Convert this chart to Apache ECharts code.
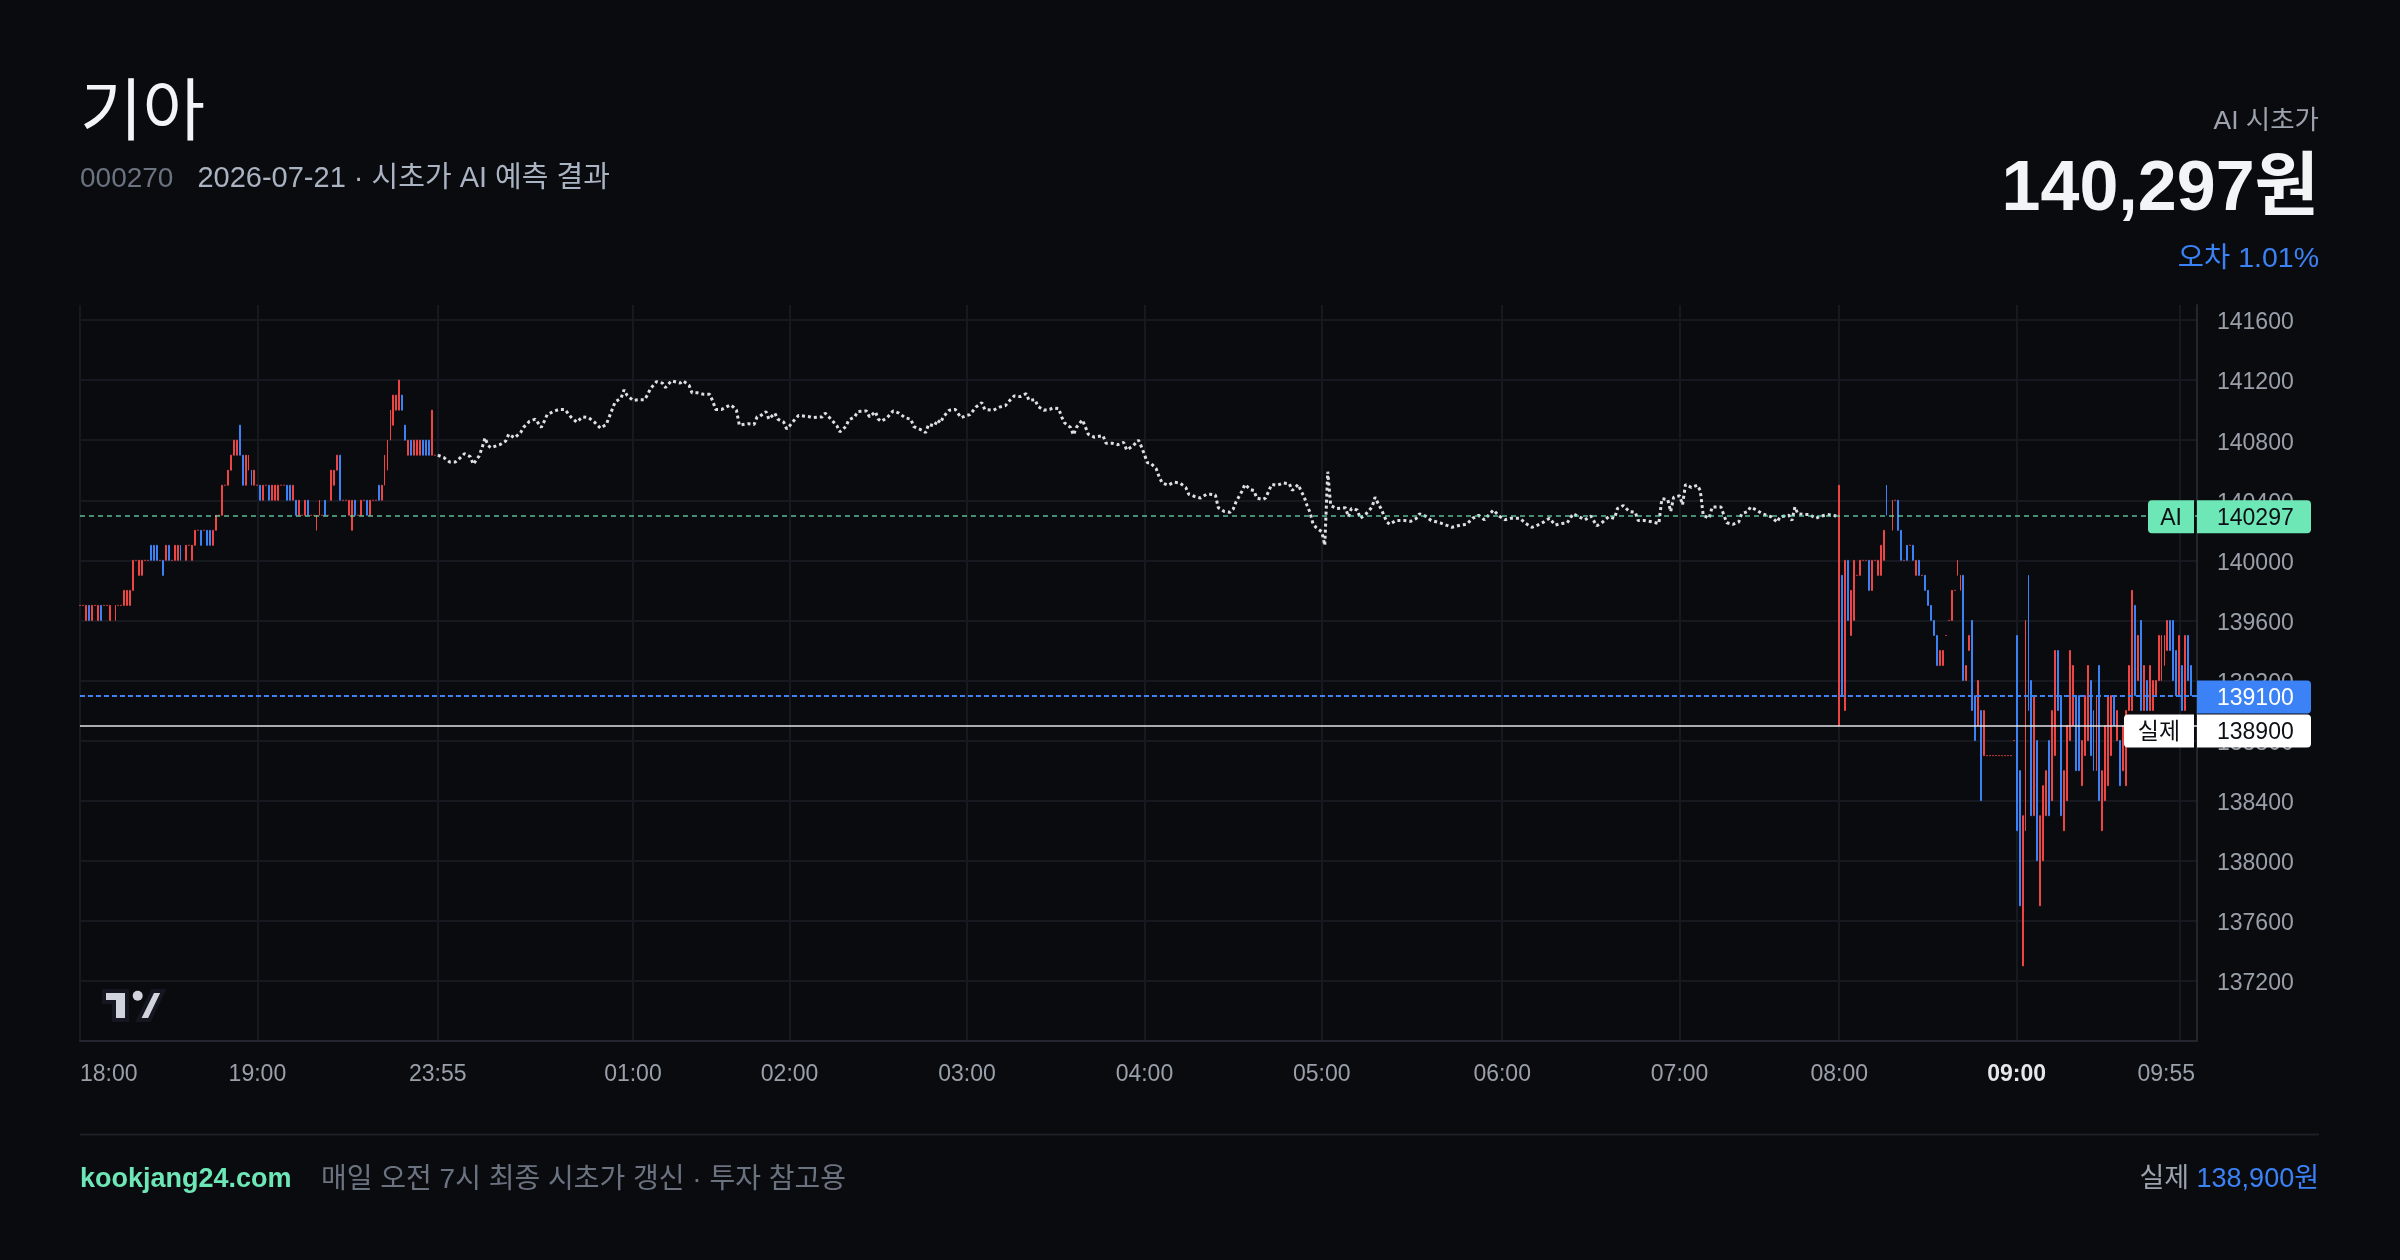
<!DOCTYPE html>
<html>
<head>
<meta charset="utf-8">
<title>기아 시초가 AI 예측 결과</title>
<script src="https://cdn.jsdelivr.net/npm/echarts@6/dist/echarts.min.js"></script>
<style>
html,body{margin:0;padding:0;background:#0a0b0f;}
#chart{width:2400px;height:1260px;}
</style>
</head>
<body>
<div id="chart"></div>
<script>
var FONT = '"Liberation Sans", "Noto Sans CJK KR", sans-serif';
var UP = '#ef4444', DOWN = '#3b82f6', GREEN = '#6ee7b7';

var stockName = '기아', stockCode = '000270', tradeDate = '2026-07-21';
var aiOpen = 140297;      // AI 시초가
var actualOpen = 138900;  // 실제 시초가
var lastClose = 139100;   // 마지막 체결가

// one slot = one bar on the time scale (index based, like the original chart)
var slotCount = 717;
var tickSlots  = [0, 60, 121, 187, 240, 300, 360, 420, 481, 541, 595, 655, 710];
var tickLabels = ['18:00','19:00','23:55','01:00','02:00','03:00','04:00','05:00','06:00','07:00','08:00','09:00','09:55'];

// 18:00 ~ 20:00 bars (u = up/red, d = down/blue, f = flat)
var eveningStart = 0;
var eveningSide = 'ffudufudff' + 'ufuffuuuuf' + 'uuffdddfdu' + 'dfuudfufuu' + 'fdfdduufuf' +
                  'uuuudduudu' + 'fdufduuuff' + 'ddudufudff' + 'uufdfuuudf' + 'fuudfufduf' +
                  'fduuuuuuud' + 'duduuudddu' + 'f';
var eveningLow = [
  139700,139700,139600,139600,139600,139700,139600,139600,139700,139700,
  139600,139700,139600,139700,139700,139700,139700,139700,139800,140000,
  139900,139900,140000,140000,140000,140000,140000,140000,139900,140000,
  140000,140000,140000,140000,140000,140100,140000,140100,140000,140100,
  140200,140100,140200,140100,140100,140100,140200,140300,140300,140500,
  140500,140600,140700,140700,140700,140500,140500,140600,140500,140500,
  140500,140400,140400,140500,140400,140400,140400,140400,140500,140500,
  140400,140400,140400,140300,140300,140300,140300,140300,140300,140300,
  140200,140300,140300,140300,140300,140400,140500,140600,140400,140400,
  140400,140300,140200,140300,140300,140300,140400,140300,140300,140400,
  140400,140400,140400,140500,140600,140800,140900,141000,141000,141000,
  140800,140700,140700,140700,140700,140700,140700,140700,140700,140700,
  140700];
var eveningHigh = [
  139700,139700,139700,139700,139700,139700,139700,139700,139700,139700,
  139700,139700,139700,139700,139700,139800,139800,139800,140000,140000,
  140000,140000,140000,140000,140100,140100,140100,140000,140000,140100,
  140100,140000,140100,140100,140100,140100,140100,140100,140100,140200,
  140200,140200,140200,140200,140200,140200,140300,140300,140500,140500,
  140600,140700,140800,140800,140900,140700,140700,140700,140600,140600,
  140500,140500,140500,140500,140500,140500,140500,140500,140500,140500,
  140500,140500,140500,140400,140400,140300,140400,140400,140300,140300,
  140300,140400,140300,140400,140300,140600,140600,140700,140700,140400,
  140400,140400,140400,140400,140300,140400,140400,140400,140400,140400,
  140400,140500,140500,140700,140800,141000,141100,141100,141200,141100,
  140900,140800,140800,140800,140800,140800,140800,140800,140800,141000,
  140700];

// 08:00 ~ 09:59 bars
var morningStart = 595;
var morningSide = 'ududuufuff' + 'dufuuudfuf' + 'ddfdfdudfd' + 'dddduuffuf' + 'uuduuddudu' +
                  'ffffffffff' + 'dduudduduu' + 'uduudduuuu' + 'dduuuddudu' + 'uuududuuuu' +
                  'dududuuuuu' + 'uudddududd';
var morningLow = [
  138900,139100,139000,139600,139500,139600,139900,139900,140000,140000,
  139800,139800,140000,139900,139900,140000,140300,140300,140200,140400,
  140200,140000,140000,140000,140100,140000,139900,139900,139900,139800,
  139700,139600,139500,139300,139300,139300,139500,139600,139600,139800,
  139900,139800,139200,139200,139400,139000,138800,138900,138400,138700,
  138700,138700,138700,138700,138700,138700,138700,138700,138700,138800,
  138200,137700,137300,138200,139000,138300,138300,138000,137700,138000,
  138300,138300,138400,138700,139000,138300,138200,138400,138800,138900,
  138600,138600,138500,138700,138800,138700,138600,138600,138400,138200,
  138400,138500,138700,138900,138800,138500,138600,138500,139000,139000,
  139100,139200,139000,139000,139000,139000,139000,139100,139200,139200,
  139300,139400,139400,139200,139100,139100,139000,139000,139200,139100];
var morningHigh = [
  140500,139900,140000,140000,139800,140000,139900,140000,140000,140000,
  140000,140000,140000,140000,140100,140200,140500,140300,140400,140400,
  140400,140200,140000,140100,140100,140100,140000,140000,139900,139900,
  139800,139700,139600,139500,139400,139400,139500,139600,139800,139800,
  140000,139900,139900,139300,139500,139600,139100,139200,139000,139000,
  138700,138700,138700,138700,138700,138700,138700,138700,138700,138800,
  139500,138600,138300,139600,139900,139200,139100,138800,138300,138500,
  138600,138800,139000,139400,139400,139100,138600,138900,139400,139300,
  139100,139100,138800,139100,139300,139200,139000,139100,139300,138600,
  138900,139100,139100,139100,139000,138800,138900,139000,139300,139800,
  139700,139500,139600,139300,139200,139300,139200,139200,139500,139500,
  139500,139600,139600,139600,139400,139500,139300,139500,139500,139300];

// AI 예측 경로 (23:55 ~ 08:00)
var aiSlot = [
  121,123,125,127,129,130,132,133,135,136,137,138,139,142,144,145,147,149,150,152,
  154,156,157,158,160,162,164,166,168,170,172,174,176,178,179,181,183,184,185,187,
  189,191,192,193,195,197,198,200,203,204,206,207,209,211,213,214,215,217,220,221,
  222,223,226,228,229,230,232,233,235,236,238,239,240,241,243,245,247,248,251,252,
  254,256,257,259,260,262,263,266,267,269,270,271,273,275,277,279,281,282,285,286,
  287,289,290,291,292,294,296,298,300,301,303,305,306,309,311,313,314,316,318,320,
  321,323,324,326,328,329,331,332,333,335,336,337,339,340,341,343,346,347,349,351,
  353,354,356,358,359,360,361,362,364,365,366,368,370,372,374,375,377,379,381,382,
  384,385,387,389,390,391,393,394,396,397,398,400,401,402,403,405,407,409,410,412,
  413,414,415,416,417,418,420,421,422,423,425,428,429,430,432,433,435,437,438,439,
  440,441,442,443,445,446,448,450,452,453,455,457,460,462,464,467,469,471,473,475,
  478,480,482,484,487,489,491,493,495,497,499,501,503,504,505,507,509,511,513,515,
  517,519,520,522,524,526,527,529,532,534,535,537,538,539,541,542,543,545,547,548,
  549,551,552,555,556,557,559,561,562,564,565,567,569,572,574,575,578,579,580,581,
  583,585,587,589,591,594];
var aiPath = [
  140700,140685,140655,140655,140690,140710,140690,140640,140695,140750,140815,140765,140750,140770,140795,140840,140815,140850,140885,140925,
  140940,140885,140925,140970,140990,141005,141005,140955,140920,140955,140950,140920,140880,140905,140955,141055,141080,141135,141100,141065,
  141070,141070,141105,141145,141190,141180,141150,141195,141180,141195,141165,141115,141115,141105,141105,141060,141005,141005,141035,141020,
  141000,140900,140910,140905,140955,140960,140990,140940,140980,140940,140920,140875,140895,140920,140965,140960,140955,140950,140955,140980,
  140940,140895,140855,140890,140935,140955,140990,140995,140955,140990,140940,140925,140950,140995,140980,140950,140940,140890,140865,140850,
  140905,140895,140935,140915,140955,141000,141005,140950,140965,140970,141020,141050,141005,141000,141020,141030,141055,141095,141090,141110,
  141065,141070,141025,141000,141005,141015,141010,140955,140915,140885,140835,140885,140935,140890,140840,140820,140830,140780,140780,140770,
  140785,140735,140760,140800,140755,140705,140650,140650,140610,140555,140515,140500,140520,140515,140485,140440,140425,140415,140440,140440,
  140435,140350,140325,140320,140340,140390,140460,140505,140470,140465,140415,140405,140415,140460,140505,140500,140515,140510,140465,140505,
  140460,140425,140365,140320,140245,140220,140190,140100,140590,140365,140345,140350,140290,140345,140335,140280,140310,140355,140420,140380,
  140345,140300,140255,140240,140265,140265,140265,140260,140280,140310,140295,140265,140250,140235,140220,140235,140240,140280,140300,140270,
  140335,140295,140270,140280,140280,140245,140220,140235,140255,140280,140235,140245,140250,140280,140310,140290,140270,140295,140230,140255,
  140290,140280,140345,140365,140325,140320,140265,140265,140255,140245,140410,140405,140325,140420,140430,140370,140505,140485,140500,140465,
  140300,140280,140355,140355,140300,140250,140240,140255,140310,140325,140355,140335,140310,140290,140255,140290,140300,140265,140355,140310,
  140305,140305,140280,140295,140305,140295];

// ---- build library data ----
var slots = [];
for (var i = 0; i < slotCount; i++) slots.push(String(i));
var tickName = {};
tickSlots.forEach(function (s, k) { tickName[s] = tickLabels[k]; });

function addBars(out, start, side, low, high) {
  for (var k = 0; k < side.length; k++) {
    var l = low[k], h = high[k], s = side.charAt(k);
    if (s === 'u') out.push([start + k, l, h, l, h]);
    else if (s === 'd') out.push([start + k, h, l, l, h]);
    else out.push([start + k, l, l, l, l]);
  }
}
var bars = [];
addBars(bars, eveningStart, eveningSide, eveningLow, eveningHigh);
addBars(bars, morningStart, morningSide, morningLow, morningHigh);
var aiLine = aiSlot.map(function (s, k) { return [s, aiPath[k]]; });

function isTick(idx) { return tickName[idx] !== undefined; }

var GRID = { left: 80, top: 305, width: 2117, height: 736 };
var plotRight = GRID.left + GRID.width;

var chart = echarts.init(document.getElementById('chart'));
chart.setOption({
  backgroundColor: '#0a0b0f',
  animation: false,
  grid: GRID,
  xAxis: {
    type: 'category',
    data: slots,
    boundaryGap: false,
    axisLine: { lineStyle: { color: '#23262e', width: 2 } },
    axisTick: { show: false },
    axisLabel: {
      interval: isTick,
      color: '#9aa0aa', fontSize: 23, fontFamily: FONT, margin: 22,
      alignMinLabel: 'left',
      formatter: function (v, idx) {
        var t = tickName[idx];
        if (t === '09:00') return '{b|' + t + '}';
        if (t === '09:55') return '{e|' + t + '}';
        return t;
      },
      rich: {
        b: { color: '#e5e7eb', fontWeight: 'bold', fontSize: 23, fontFamily: FONT },
        e: { color: '#9aa0aa', fontSize: 23, fontFamily: FONT, padding: [0, 26, 0, 0] }
      }
    },
    splitLine: { show: true, interval: isTick, lineStyle: { color: '#16191f', width: 2 } }
  },
  yAxis: {
    type: 'value',
    position: 'right',
    min: 136800, max: 141700, interval: 400,
    axisLine: { show: true, lineStyle: { color: '#23262e', width: 2 } },
    axisTick: { show: false },
    axisLabel: {
      margin: 20,
      showMinLabel: false, showMaxLabel: false,
      formatter: function (v) { return '{p|' + v + '}'; },
      rich: { p: { color: '#9aa0aa', fontSize: 23, fontFamily: FONT, padding: [6, 0, 0, 0] } }
    },
    splitLine: { lineStyle: { color: '#16191f', width: 2 }, showMinLine: false, showMaxLine: false }
  },
  series: [
    {
      type: 'candlestick',
      data: bars,
      encode: { x: 0, y: [1, 2, 3, 4] },
      barWidth: 1.4,
      silent: true,
      itemStyle: { color: UP, color0: DOWN, borderColor: UP, borderColor0: DOWN, borderColorDoji: UP, borderWidth: 1 },
      markLine: {
        silent: true, symbol: 'none', animation: false,
        label: { show: false },
        data: [
          { yAxis: aiOpen, lineStyle: { color: 'rgba(110,231,183,0.6)', type: [5, 4], width: 2 } },
          { yAxis: lastClose, lineStyle: { color: DOWN, type: [5, 3], width: 2 } },
          { yAxis: actualOpen, lineStyle: { color: 'rgba(225,227,232,0.75)', type: 'solid', width: 2 } }
        ]
      }
    },
    {
      type: 'line',
      data: aiLine,
      symbol: 'none',
      silent: true,
      z: 3,
      lineStyle: { color: '#dcdfe4', width: 3, type: [3, 3], cap: 'butt' }
    }
  ]
});

// ---- price tags on the right axis + header / footer texts ----
function tag(cy, label, labelW, value, bg, fg) {
  var h = 33, top = cy - h / 2, els = [];
  els.push({ type: 'rect', z: 100, shape: { x: plotRight, y: top, width: 114, height: h, r: [0, 4, 4, 0] }, style: { fill: bg } });
  els.push({ type: 'text', z: 101, x: plotRight + 20, y: cy + 2, style: { text: String(value), fill: fg, font: '23px ' + FONT, verticalAlign: 'middle' } });
  if (label) {
    els.push({ type: 'rect', z: 100, shape: { x: plotRight - 3 - labelW, y: top, width: labelW, height: h, r: [4, 0, 0, 4] }, style: { fill: bg } });
    els.push({ type: 'text', z: 101, x: plotRight - 3 - labelW / 2, y: cy + 2, style: { text: label, fill: fg, font: '23px ' + FONT, align: 'center', verticalAlign: 'middle' } });
  }
  return els;
}

var aiY = chart.convertToPixel({ yAxisIndex: 0 }, aiOpen) + 1;
var lastY = chart.convertToPixel({ yAxisIndex: 0 }, lastClose) + 1.5;
var actY = chart.convertToPixel({ yAxisIndex: 0 }, actualOpen) + 1;
if (actY - 16.5 < lastY + 17.5) actY = lastY + 17.5 + 16.5; // keep labels from overlapping

var errPct = (Math.abs(aiOpen - actualOpen) / actualOpen * 100).toFixed(2);
var fmt = function (n) { return n.toLocaleString('en-US'); };

var graphics = []
  .concat(tag(aiY, 'AI', 46, aiOpen, GREEN, '#0b0f14'))
  .concat(tag(lastY, null, 0, lastClose, DOWN, '#ffffff'))
  .concat(tag(actY, '실제', 70, actualOpen, '#ffffff', '#0b0f14'))
  .concat([
    { type: 'text', x: 80, y: 109, style: { text: stockName, fill: '#f3f4f6', font: '68px "Noto Sans CJK KR", sans-serif', verticalAlign: 'middle' } },
    { type: 'text', x: 80, y: 179, style: {
        text: '{a|' + stockCode + '}{b|' + tradeDate + ' · 시초가 AI 예측 결과}',
        verticalAlign: 'middle',
        rich: { a: { fill: '#6b7280', fontSize: 28, fontFamily: FONT },
                b: { fill: '#aab3c2', fontSize: 29, fontFamily: FONT, padding: [0, 0, 0, 24] } } } },
    { type: 'text', x: 2319, y: 122, style: { text: 'AI 시초가', fill: '#9ca3af', font: '26.5px ' + FONT, align: 'right', verticalAlign: 'middle' } },
    { type: 'text', x: 2319, y: 191, style: { text: fmt(aiOpen) + '원', fill: '#f3f4f6', font: 'bold 70px ' + FONT, align: 'right', verticalAlign: 'middle' } },
    { type: 'text', x: 2319, y: 259, style: { text: '오차 ' + errPct + '%', fill: DOWN, font: '28.5px ' + FONT, align: 'right', verticalAlign: 'middle' } },
    // TradingView mark
    { type: 'polygon', z: 50, shape: { points: [[104, 991], [127, 991], [127, 1020], [114, 1020], [114, 1002], [104, 1002]] }, style: { fill: '#d1d4dc', stroke: '#141720', lineWidth: 4 } },
    { type: 'circle', z: 50, shape: { cx: 137.7, cy: 995.7, r: 5 }, style: { fill: '#d1d4dc' } },
    { type: 'polygon', z: 50, shape: { points: [[152.7, 991], [163.3, 991], [149.3, 1020], [138.3, 1020]] }, style: { fill: '#d1d4dc', stroke: '#141720', lineWidth: 4 } },
    // footer
    { type: 'line', shape: { x1: 80, y1: 1134.5, x2: 2319, y2: 1134.5 }, style: { stroke: '#1c1f26', lineWidth: 2 } },
    { type: 'text', x: 80, y: 1180, style: { text: 'kookjang24.com', fill: GREEN, font: 'bold 27px ' + FONT, verticalAlign: 'middle' } },
    { type: 'text', x: 321, y: 1180, style: { text: '매일 오전 7시 최종 시초가 갱신 · 투자 참고용', fill: '#6b7280', font: '28px ' + FONT, verticalAlign: 'middle' } },
    { type: 'text', x: 2319, y: 1180, style: {
        text: '{a|실제 }{b|' + fmt(actualOpen) + '원}', align: 'right', verticalAlign: 'middle',
        rich: { a: { fill: '#9ca3af', fontSize: 27, fontFamily: FONT }, b: { fill: DOWN, fontSize: 27, fontFamily: FONT } } } }
  ]);

chart.setOption({ graphic: graphics });
</script>
</body>
</html>
